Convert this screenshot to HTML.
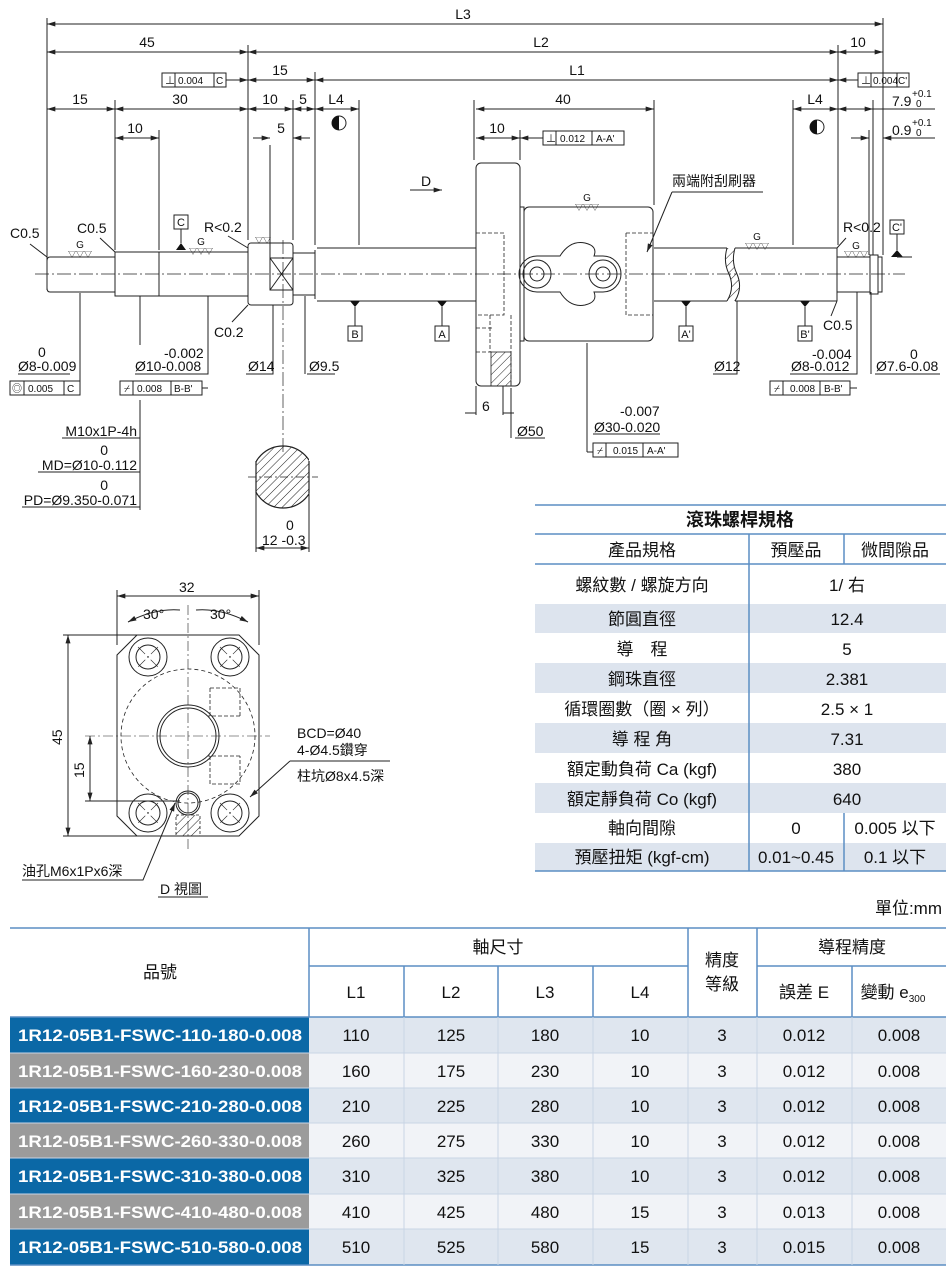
<!DOCTYPE html>
<html><head><meta charset="utf-8"><style>
body{margin:0;background:#fff}
svg{display:block}
.d{stroke:#222;stroke-width:1;fill:none}
.t{font-family:"Liberation Sans","Noto Sans CJK TC",sans-serif;font-size:14px;fill:#111}
.c{font-family:"Liberation Sans","Noto Sans CJK TC",sans-serif;fill:#111}
</style></head><body>
<svg width="952" height="1274" viewBox="0 0 952 1274" xmlns="http://www.w3.org/2000/svg">
<defs>
<marker id="a" viewBox="0 0 10 6" refX="10" refY="3" markerWidth="9" markerHeight="5" orient="auto-start-reverse"><path d="M0,0L10,3L0,6z" fill="#222"/></marker>
<pattern id="h" width="6" height="6" patternUnits="userSpaceOnUse" patternTransform="rotate(45)"><line x1="0" y1="0" x2="0" y2="6" stroke="#222" stroke-width="1"/></pattern>
</defs>
<rect width="952" height="1274" fill="#fff"/>

<g class="d" stroke-width="0.8">
<path d="M47 18V290M115 100V250M159 130V250M248 45V240M270 145V258M293 100V240M315 72V245M359 100V245M474 100V160M520 130V160M654 100V205M793 100V245M838 45V245M869 130V255M873 100V255M883 18V255"/>
</g>
<g class="d" stroke-width="0.8" marker-start="url(#a)" marker-end="url(#a)">
<line x1="47" y1="24" x2="883" y2="24"/>
<line x1="47" y1="52" x2="248" y2="52"/><line x1="248" y1="52" x2="838" y2="52"/><line x1="838" y1="52" x2="883" y2="52"/>
<line x1="248" y1="80" x2="315" y2="80"/><line x1="315" y1="80" x2="838" y2="80"/>
<line x1="47" y1="109" x2="115" y2="109"/><line x1="115" y1="109" x2="248" y2="109"/><line x1="248" y1="109" x2="293" y2="109"/><line x1="293" y1="109" x2="315" y2="109"/><line x1="315" y1="109" x2="359" y2="109"/>
<line x1="793" y1="109" x2="838" y2="109"/><line x1="838" y1="109" x2="873" y2="109"/>
<line x1="115" y1="138" x2="159" y2="138"/>
<line x1="476" y1="109" x2="654" y2="109"/><line x1="476" y1="138" x2="520" y2="138"/>
</g>
<g class="d" stroke-width="0.8">
<line x1="873" y1="109" x2="935" y2="109"/>
<line x1="253" y1="138" x2="270" y2="138" marker-end="url(#a)"/><line x1="310" y1="138" x2="293" y2="138" marker-end="url(#a)"/>
<line x1="851" y1="138" x2="869" y2="138" marker-end="url(#a)"/><line x1="935" y1="138" x2="883" y2="138" marker-end="url(#a)"/>
<line x1="226" y1="80" x2="248" y2="80" marker-end="url(#a)"/><line x1="858" y1="80" x2="838" y2="80" marker-end="url(#a)"/>
<line x1="543" y1="138" x2="520" y2="138" marker-end="url(#a)"/>
<line x1="410" y1="190" x2="442" y2="190" marker-end="url(#a)"/>
</g>
<g class="t" text-anchor="middle">
<text x="463" y="19">L3</text><text x="147" y="47">45</text><text x="541" y="47">L2</text><text x="858" y="47">10</text>
<text x="280" y="75">15</text><text x="577" y="75">L1</text>
<text x="80" y="104">15</text><text x="180" y="104">30</text><text x="270" y="104">10</text><text x="303" y="104">5</text><text x="336" y="104">L4</text>
<text x="815" y="104">L4</text><text x="135" y="133">10</text><text x="281" y="133">5</text>
<text x="563" y="104">40</text><text x="497" y="133">10</text>
<text x="426" y="186">D</text>
</g>
<text class="t" x="892" y="106">7.9</text><text class="c" x="912" y="97" font-size="10">+0.1</text><text class="c" x="916" y="107" font-size="10">0</text>
<text class="t" x="892" y="135">0.9</text><text class="c" x="912" y="126" font-size="10">+0.1</text><text class="c" x="916" y="136" font-size="10">0</text>
<circle cx="339" cy="123" r="7" fill="#fff" stroke="#222"/><path d="M339 116A7 7 0 0 0 339 130Z" fill="#111"/>
<circle cx="817" cy="127" r="7" fill="#fff" stroke="#222"/><path d="M817 120A7 7 0 0 0 817 134Z" fill="#111"/>
<g class="d" stroke-width="0.8">
<rect x="162" y="73" width="64" height="14"/><path d="M175 73V87M214 73V87"/>
<rect x="858" y="73" width="51" height="14"/><path d="M871 73V87M897 73V87"/>
<rect x="543" y="131" width="81" height="14"/><path d="M556 131V145M592 131V145"/>
<rect x="10" y="381" width="70" height="14"/><path d="M24 381V395M64 381V395"/>
<rect x="120" y="381" width="82" height="14"/><path d="M133 381V395M171 381V395"/>
<rect x="770" y="381" width="80" height="14"/><path d="M783 381V395M820 381V395"/>
<rect x="593" y="443" width="85" height="14"/><path d="M606 443V457M643 443V457"/>
</g>
<g class="c" font-size="10">
<text x="165" y="84">⊥</text><text x="178" y="84">0.004</text><text x="216" y="84">C</text>
<text x="861" y="84">⊥</text><text x="873" y="84">0.004</text><text x="898" y="84">C'</text>
<text x="546" y="142">⊥</text><text x="560" y="142">0.012</text><text x="596" y="142">A-A'</text>
<text x="12" y="392">◎</text><text x="28" y="392">0.005</text><text x="67" y="392">C</text>
<text x="124" y="392">⌿</text><text x="137" y="392">0.008</text><text x="174" y="392">B-B'</text>
<text x="774" y="392">⌿</text><text x="790" y="392">0.008</text><text x="824" y="392">B-B'</text>
<text x="597" y="454">⌿</text><text x="613" y="454">0.015</text><text x="647" y="454">A-A'</text>
</g>

<line x1="35" y1="274" x2="905" y2="274" stroke="#222" stroke-width="0.7" stroke-dasharray="14,3,2,3"/>
<line x1="283" y1="240" x2="283" y2="452" stroke="#222" stroke-width="0.7" stroke-dasharray="14,3,2,3"/>
<g class="d" stroke-width="1.2" fill="#fff">
<path d="M50 257H115V292H50Q47 292 47 288V261Q47 257 50 257Z"/>
<rect x="115" y="252" width="133" height="44"/><line x1="159" y1="252" x2="159" y2="296"/>
<rect x="248" y="243" width="45" height="62" rx="3"/>
<rect x="270" y="258" width="23" height="32"/><path d="M270 258L293 290M293 258L270 290"/>
<rect x="293" y="253" width="22" height="42"/>
<path d="M317 248H476M317 301H476M315 250V299"/>
<path d="M654 248H727M654 301H727M735 248H837M735 301H837"/>
<path d="M727 248Q723 262 729 274Q735 288 727 301" fill="none"/><path d="M735 248Q731 262 737 274Q743 288 735 301" fill="none"/>
<path d="M837 248V301M837 257H870M837 292H870M870 255H878V294H870ZM878 257H882V292H878"/>
</g>
<path d="M727 248Q723 262 729 274Q735 288 727 301L735 301Q743 288 737 274Q731 262 735 248Z" fill="url(#h)" stroke="none"/>
<g class="d" stroke-width="1.2" fill="#fff">
<rect x="476" y="163" width="44" height="223" rx="5"/>
<rect x="520" y="207" width="4" height="134"/>
<rect x="524" y="207" width="129" height="134" rx="5"/>
<path d="M537 256H560Q570 240 585 243Q598 246 594 256H603A18 18 0 0 1 603 292H594Q598 302 585 305Q570 308 560 292H537A18 18 0 0 1 537 256Z"/>
<circle cx="537" cy="274" r="14"/><circle cx="537" cy="274" r="7"/>
<circle cx="603" cy="274" r="14"/><circle cx="603" cy="274" r="7"/>
</g>
<g stroke="#222" stroke-width="0.8" fill="none" stroke-dasharray="4,2">
<path d="M476 233H504V315H476M626 233H653M626 233V315H653"/>
<path d="M476 328H494M476 352H494M490 315V352M511 315V385"/>
</g>
<rect x="491" y="352" width="20" height="34" fill="url(#h)" stroke="#222" stroke-width="0.8"/>
<g fill="#111">
<path d="M176 250L181 243L186 250Z"/><path d="M350 301L355 307L360 301Z"/><path d="M437 301L442 307L447 301Z"/>
<path d="M681 301L686 307L691 301Z"/><path d="M800 301L805 307L810 301Z"/><path d="M891 257L897 250L903 257Z"/>
</g>
<g class="d" stroke-width="0.8">
<path d="M181 229V243M355 307V326M442 307V326M686 307V326M805 307V326M897 234V250M897 257H912"/>
<rect x="174" y="215" width="14" height="14"/><rect x="348" y="326" width="14" height="15"/><rect x="435" y="326" width="14" height="15"/>
<rect x="679" y="326" width="14" height="15"/><rect x="798" y="326" width="14" height="15"/><rect x="890" y="220" width="14" height="14"/>
</g>
<g class="c" font-size="11" text-anchor="middle">
<text x="181" y="226">C</text><text x="355" y="338">B</text><text x="442" y="338">A</text><text x="686" y="338">A'</text><text x="805" y="338">B'</text><text x="897" y="231">C'</text>
</g>
<g class="c" font-size="10" text-anchor="middle">
<text x="80" y="248">G</text><text x="80" y="257" font-size="8">▽▽▽</text>
<text x="201" y="245">G</text><text x="201" y="254" font-size="8">▽▽▽</text>
<text x="587" y="201">G</text><text x="587" y="210" font-size="8">▽▽▽</text>
<text x="757" y="240">G</text><text x="757" y="249" font-size="8">▽▽▽</text>
<text x="856" y="249">G</text><text x="856" y="257" font-size="8">▽▽▽</text>
<text x="263" y="243" font-size="8">▽▽</text>
</g>
<g class="t">
<text x="10" y="238">C0.5</text><text x="77" y="233">C0.5</text><text x="204" y="232">R&lt;0.2</text><text x="214" y="337">C0.2</text>
<text x="843" y="232">R&lt;0.2</text><text x="823" y="330">C0.5</text>
<text x="672" y="186">兩端附刮刷器</text>
</g>
<g class="d" stroke-width="0.8">
<path d="M30 244L47 257M100 238L115 252M228 236L248 248M232 322L248 305M846 238L837 248M831 316L837 301"/>
<path d="M672 192H763M672 192L647 252" marker-end="url(#a)"/>
<path d="M80 395V293M18 374H70M140 345V296M135 374H208V296M202 388H208M246 374H273V305M307 374H335M305 374V296"/>
<path d="M713 374H737V301M790 374H857V292M850 388H857M875 374H940M871 374V292"/>
<path d="M476 386V415M503 386V415M465 413H476M514 413H503"/>
<path d="M515 438H545M511 438V388M593 434H660M587 452V343M587 452H593"/>
</g>
<g class="t">
<text x="38" y="357">0</text><text x="18" y="371">Ø8-0.009</text>
<text x="164" y="358">-0.002</text><text x="135" y="371">Ø10-0.008</text>
<text x="248" y="371">Ø14</text><text x="309" y="371">Ø9.5</text>
<text x="714" y="371">Ø12</text><text x="812" y="359">-0.004</text><text x="791" y="371">Ø8-0.012</text>
<text x="910" y="359">0</text><text x="876" y="371">Ø7.6-0.08</text>
<text x="482" y="411">6</text><text x="517" y="436">Ø50</text>
<text x="620" y="416">-0.007</text><text x="594" y="432">Ø30-0.020</text>
</g>
<g class="d" stroke-width="0.8"><path d="M140 400V510M62 438H140M38 472H140M22 507H140"/></g>
<g class="t" text-anchor="end">
<text x="137" y="436">M10x1P-4h</text><text x="108" y="455">0</text><text x="137" y="470">MD=Ø10-0.112</text>
<text x="108" y="490">0</text><text x="137" y="505">PD=Ø9.350-0.071</text>
</g>
<clipPath id="sc"><rect x="256" y="440" width="53" height="80"/></clipPath>
<g clip-path="url(#sc)"><circle cx="283" cy="477" r="31" fill="url(#h)" stroke="#222" stroke-width="1.2"/></g>
<path d="M256 461V493M309 461V493" stroke="#222" stroke-width="1.2"/>
<line x1="248" y1="477" x2="318" y2="477" stroke="#222" stroke-width="0.7" stroke-dasharray="8,3,2,3"/>
<g class="d" stroke-width="0.8"><path d="M256 493V552M309 493V552"/><line x1="256" y1="548" x2="309" y2="548" marker-start="url(#a)" marker-end="url(#a)"/></g>
<text class="t" x="286" y="530">0</text><text class="t" x="262" y="545">12 -0.3</text>

<g class="d" stroke-width="1.2" fill="#fff">
<path d="M137 635H239L259 655V816L239 836H137L117 816V655Z"/>
<circle cx="188" cy="736" r="31"/><circle cx="188" cy="736" r="28"/>
</g>
<circle cx="188" cy="736" r="67" fill="none" stroke="#222" stroke-width="0.8" stroke-dasharray="4,3"/>
<g stroke="#222" stroke-width="0.8" fill="none" stroke-dasharray="4,2">
<path d="M210 688H240V716M210 688V716M240 716H208M240 756H208M210 756V784H240V756"/>
</g>
<g class="d" stroke-width="1">
<circle cx="148" cy="657" r="19"/><circle cx="148" cy="657" r="12"/>
<circle cx="230" cy="657" r="19"/><circle cx="230" cy="657" r="12"/>
<circle cx="148" cy="813" r="19"/><circle cx="148" cy="813" r="12"/>
<circle cx="230" cy="813" r="19"/><circle cx="230" cy="813" r="12"/>
<circle cx="188" cy="803" r="12"/><circle cx="188" cy="803" r="10"/>
</g>
<rect x="176" y="815" width="24" height="21" fill="url(#h)" stroke="#222" stroke-width="0.8" stroke-dasharray="3,2"/>
<g stroke="#222" stroke-width="0.6" stroke-dasharray="10,3,2,3">
<line x1="188" y1="605" x2="188" y2="850"/><line x1="85" y1="736" x2="270" y2="736"/>
<path d="M138 647L158 667M158 647L138 667M220 647L240 667M240 647L220 667M138 803L158 823M158 803L138 823M220 803L240 823M240 803L220 823"/>
</g>
<g class="d" stroke-width="0.8">
<path d="M117 590V645M259 590V645M63 635H137M63 836H137M85 801H180"/>
<line x1="117" y1="596" x2="259" y2="596" marker-start="url(#a)" marker-end="url(#a)"/>
<line x1="68" y1="635" x2="68" y2="836" marker-start="url(#a)" marker-end="url(#a)"/>
<line x1="90" y1="736" x2="90" y2="801" marker-start="url(#a)" marker-end="url(#a)"/>
<path d="M128 622Q155 608 180 610" marker-start="url(#a)"/><path d="M248 622Q221 608 196 610" marker-start="url(#a)"/>
<path d="M290 761H390M290 761L250 797" marker-end="url(#a)"/>
<path d="M22 880H143L175 803" marker-end="url(#a)"/>
<path d="M158 897H208"/>
</g>
<g class="t">
<text x="179" y="592">32</text><text x="143" y="619">30°</text><text x="210" y="619">30°</text>
<text transform="translate(62,745) rotate(-90)">45</text><text transform="translate(84,778) rotate(-90)">15</text>
<text x="297" y="738">BCD=Ø40</text><text x="297" y="755">4-Ø4.5鑽穿</text><text x="297" y="781">柱坑Ø8x4.5深</text>
<text x="22" y="876">油孔M6x1Px6深</text><text x="160" y="894">D 視圖</text>
</g>

<g class="c" font-size="17">
<rect x="535" y="604" width="411" height="29" fill="#dde4ee"/>
<rect x="535" y="663" width="411" height="30" fill="#dde4ee"/>
<rect x="535" y="723" width="411" height="30" fill="#dde4ee"/>
<rect x="535" y="783" width="411" height="30" fill="#dde4ee"/>
<rect x="535" y="843" width="411" height="28" fill="#dde4ee"/>
<g stroke="#5b8ec4" stroke-width="1.5">
<line x1="535" y1="505" x2="946" y2="505"/><line x1="535" y1="534" x2="946" y2="534"/><line x1="535" y1="564" x2="946" y2="564"/><line x1="535" y1="871" x2="946" y2="871"/>
<line x1="749" y1="534" x2="749" y2="871"/><line x1="844" y1="534" x2="844" y2="564"/><line x1="844" y1="813" x2="844" y2="871"/>
</g>
<text x="740" y="526" text-anchor="middle" font-weight="bold" font-size="18">滾珠螺桿規格</text>
<g text-anchor="middle">
<text x="642" y="556">產品規格</text><text x="796" y="556">預壓品</text><text x="895" y="556">微間隙品</text>
<text x="642" y="591">螺紋數 / 螺旋方向</text><text x="847" y="591">1/ 右</text>
<text x="642" y="625">節圓直徑</text><text x="847" y="625">12.4</text>
<text x="642" y="655">導　程</text><text x="847" y="655">5</text>
<text x="642" y="685">鋼珠直徑</text><text x="847" y="685">2.381</text>
<text x="642" y="715">循環圈數（圈 × 列）</text><text x="847" y="715">2.5 × 1</text>
<text x="642" y="745">導 程 角</text><text x="847" y="745">7.31</text>
<text x="642" y="775">額定動負荷 Ca (kgf)</text><text x="847" y="775">380</text>
<text x="642" y="805">額定靜負荷 Co (kgf)</text><text x="847" y="805">640</text>
<text x="642" y="834">軸向間隙</text><text x="796" y="834">0</text><text x="895" y="834">0.005 以下</text>
<text x="642" y="863">預壓扭矩 (kgf-cm)</text><text x="796" y="863">0.01~0.45</text><text x="895" y="863">0.1 以下</text>
</g>
<text x="942" y="914" text-anchor="end">單位:mm</text>
</g>

<g class="c" font-size="17">
<g fill="#dfe6ef"><rect x="309" y="1017" width="637" height="36"/><rect x="309" y="1088" width="637" height="35"/><rect x="309" y="1158" width="637" height="36"/><rect x="309" y="1229" width="637" height="36"/></g>
<g fill="#f1f3f7"><rect x="309" y="1053" width="637" height="35"/><rect x="309" y="1123" width="637" height="35"/><rect x="309" y="1194" width="637" height="35"/></g>
<g fill="#0b68a6"><rect x="10" y="1017" width="299" height="36"/><rect x="10" y="1088" width="299" height="35"/><rect x="10" y="1158" width="299" height="36"/><rect x="10" y="1229" width="299" height="36"/></g>
<g fill="#9b9b9b"><rect x="10" y="1053" width="299" height="35"/><rect x="10" y="1123" width="299" height="35"/><rect x="10" y="1194" width="299" height="35"/></g>
<g stroke="#5b8ec4" stroke-width="1.5">
<line x1="10" y1="928" x2="946" y2="928"/><line x1="309" y1="966" x2="688" y2="966"/><line x1="757" y1="966" x2="946" y2="966"/>
<line x1="10" y1="1017" x2="946" y2="1017"/><line x1="10" y1="1265" x2="946" y2="1265"/>
<line x1="309" y1="928" x2="309" y2="1017"/><line x1="688" y1="928" x2="688" y2="1017"/><line x1="757" y1="928" x2="757" y2="1017"/>
<line x1="404" y1="966" x2="404" y2="1017"/><line x1="498" y1="966" x2="498" y2="1017"/><line x1="593" y1="966" x2="593" y2="1017"/><line x1="852" y1="966" x2="852" y2="1017"/>
</g>
<g stroke="#c9d5e4" stroke-width="1">
<path d="M10 1053H946M10 1088H946M10 1123H946M10 1158H946M10 1194H946M10 1229H946"/>
<path d="M404 1017V1265M498 1017V1265M593 1017V1265M688 1017V1265M757 1017V1265M852 1017V1265"/>
</g>
<g text-anchor="middle">
<text x="160" y="978">品號</text><text x="498" y="953">軸尺寸</text><text x="852" y="953">導程精度</text>
<text x="722" y="966">精度</text><text x="722" y="990">等級</text>
<text x="356" y="998">L1</text><text x="451" y="998">L2</text><text x="545" y="998">L3</text><text x="640" y="998">L4</text>
<text x="804" y="998">誤差 E</text><text x="893" y="998">變動 e<tspan font-size="10" dy="4">300</tspan></text>
</g>
<g text-anchor="middle" font-weight="bold" fill="#fff" font-size="17">
<text x="160" y="1041" textLength="284" lengthAdjust="spacingAndGlyphs">1R12-05B1-FSWC-110-180-0.008</text>
<text x="160" y="1077" textLength="284" lengthAdjust="spacingAndGlyphs">1R12-05B1-FSWC-160-230-0.008</text>
<text x="160" y="1112" textLength="284" lengthAdjust="spacingAndGlyphs">1R12-05B1-FSWC-210-280-0.008</text>
<text x="160" y="1147" textLength="284" lengthAdjust="spacingAndGlyphs">1R12-05B1-FSWC-260-330-0.008</text>
<text x="160" y="1182" textLength="284" lengthAdjust="spacingAndGlyphs">1R12-05B1-FSWC-310-380-0.008</text>
<text x="160" y="1218" textLength="284" lengthAdjust="spacingAndGlyphs">1R12-05B1-FSWC-410-480-0.008</text>
<text x="160" y="1253" textLength="284" lengthAdjust="spacingAndGlyphs">1R12-05B1-FSWC-510-580-0.008</text>
</g>
<g text-anchor="middle">
<text x="356" y="1041">110</text><text x="451" y="1041">125</text><text x="545" y="1041">180</text><text x="640" y="1041">10</text><text x="722" y="1041">3</text><text x="804" y="1041">0.012</text><text x="899" y="1041">0.008</text>
<text x="356" y="1077">160</text><text x="451" y="1077">175</text><text x="545" y="1077">230</text><text x="640" y="1077">10</text><text x="722" y="1077">3</text><text x="804" y="1077">0.012</text><text x="899" y="1077">0.008</text>
<text x="356" y="1112">210</text><text x="451" y="1112">225</text><text x="545" y="1112">280</text><text x="640" y="1112">10</text><text x="722" y="1112">3</text><text x="804" y="1112">0.012</text><text x="899" y="1112">0.008</text>
<text x="356" y="1147">260</text><text x="451" y="1147">275</text><text x="545" y="1147">330</text><text x="640" y="1147">10</text><text x="722" y="1147">3</text><text x="804" y="1147">0.012</text><text x="899" y="1147">0.008</text>
<text x="356" y="1182">310</text><text x="451" y="1182">325</text><text x="545" y="1182">380</text><text x="640" y="1182">10</text><text x="722" y="1182">3</text><text x="804" y="1182">0.012</text><text x="899" y="1182">0.008</text>
<text x="356" y="1218">410</text><text x="451" y="1218">425</text><text x="545" y="1218">480</text><text x="640" y="1218">15</text><text x="722" y="1218">3</text><text x="804" y="1218">0.013</text><text x="899" y="1218">0.008</text>
<text x="356" y="1253">510</text><text x="451" y="1253">525</text><text x="545" y="1253">580</text><text x="640" y="1253">15</text><text x="722" y="1253">3</text><text x="804" y="1253">0.015</text><text x="899" y="1253">0.008</text>
</g>
</g>
</svg>
</body></html>
